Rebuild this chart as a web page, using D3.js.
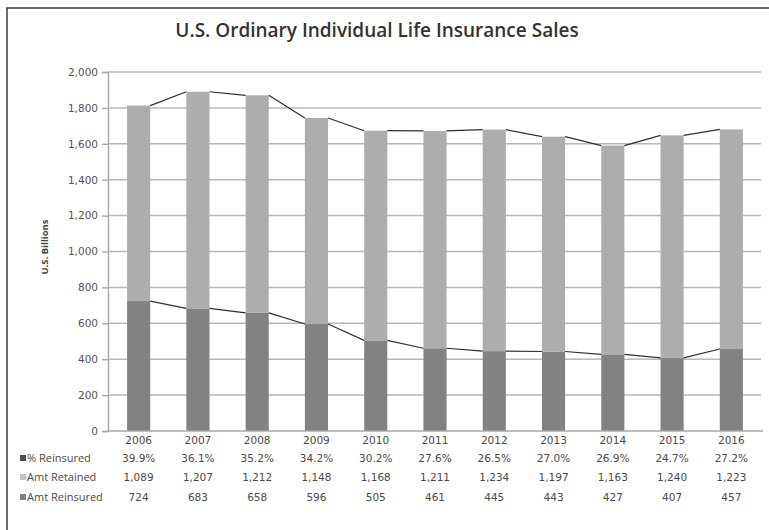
<!DOCTYPE html>
<html lang="en">
  <head>
    <meta charset="UTF-8" />
    <title>U.S. Ordinary Individual Life Insurance Sales</title>
    <script src="https://d3js.org/d3.v7.min.js"></script>
    <style>
      body {
        margin: 0;
        background: #fff;
        overflow: hidden;
      }
      svg text {
        fill: #4a4a4a;
      }
    </style>
  </head>
  <body>
    <svg id="chart" width="769" height="530"></svg>
    <script>
      const years = ["2006", "2007", "2008", "2009", "2010", "2011", "2012", "2013", "2014", "2015", "2016"];
      const pctReinsured = [39.9, 36.1, 35.2, 34.2, 30.2, 27.6, 26.5, 27.0, 26.9, 24.7, 27.2];
      const amtRetained = [1089, 1207, 1212, 1148, 1168, 1211, 1234, 1197, 1163, 1240, 1223];
      const amtReinsured = [724, 683, 658, 596, 505, 461, 445, 443, 427, 407, 457];
      const yTicks = [0, 200, 400, 600, 800, 1000, 1200, 1400, 1600, 1800, 2000];

      const width = 769;
      const height = 530;
      const margin = { top: 72, right: 8, bottom: 99, left: 108 };

      const colors = {
        reinsured: "#828283",
        retained: "#adadae",
        pct: "#4d4d4d",
      };

      const svg = d3.select("#chart");

      // frame (only left + top edges are inside the crop)
      svg
        .append("path")
        .attr("d", `M7,${height} V8 H${width}`)
        .attr("fill", "none")
        .attr("stroke", "#3a3a3a")
        .attr("stroke-width", 1.5);

      svg
        .append("text")
        .attr("x", 377)
        .attr("y", 37)
        .attr("text-anchor", "middle")
        .attr("font-family", "Open Sans")
        .attr("font-weight", 600)
        .attr("font-size", "19px")
        .style("fill", "#333")
        .text("U.S. Ordinary Individual Life Insurance Sales");

      const x = d3
        .scaleBand()
        .domain(years)
        .range([margin.left + 1, width - margin.right])
        .paddingInner(0.61)
        .paddingOuter(0.305);

      const y = d3
        .scaleLinear()
        .domain([0, 2000])
        .range([height - margin.bottom, margin.top]);

      // gridlines
      svg
        .append("g")
        .selectAll("line")
        .data(yTicks.filter((d) => d > 0))
        .join("line")
        .attr("x1", margin.left)
        .attr("x2", width - margin.right)
        .attr("y1", (d) => y(d))
        .attr("y2", (d) => y(d))
        .attr("stroke", "#b8b8b8")
        .attr("stroke-width", 1.5);

      // y axis
      const yAxis = svg
        .append("g")
        .attr("transform", `translate(${margin.left},0)`)
        .call(
          d3
            .axisLeft(y)
            .tickValues(yTicks)
            .tickFormat(d3.format(","))
            .tickSize(6)
            .tickPadding(4)
        );
      yAxis.select(".domain").attr("stroke", "#a8a8a8").attr("stroke-width", 1.4);
      yAxis.selectAll(".tick line").attr("stroke", "#a8a8a8").attr("stroke-width", 1.4);
      yAxis
        .selectAll(".tick text")
        .attr("font-family", "DejaVu Sans")
        .attr("font-size", "10.5px")
        .style("fill", "#555");

      svg
        .append("text")
        .attr("transform", `translate(48,247) rotate(-90)`)
        .attr("text-anchor", "middle")
        .attr("font-family", "Open Sans")
        .attr("font-weight", 700)
        .attr("font-size", "9.5px")
        .style("fill", "#444")
        .text("U.S. Billions");

      // stacked bars
      const rows = years.map((yr, i) => ({
        year: yr,
        reinsured: amtReinsured[i],
        retained: amtRetained[i],
      }));
      const stack = d3.stack().keys(["reinsured", "retained"])(rows);

      svg
        .append("g")
        .selectAll("g")
        .data(stack)
        .join("g")
        .attr("fill", (s) => colors[s.key])
        .selectAll("rect")
        .data((s) => s)
        .join("rect")
        .attr("x", (d) => x(d.data.year))
        .attr("width", x.bandwidth())
        .attr("y", (d) => y(d[1]))
        .attr("height", (d) => y(d[0]) - y(d[1]));

      // series lines between bars
      const line = d3.line();
      stack.forEach((s) => {
        const segs = [];
        for (let i = 0; i < s.length - 1; i++) {
          segs.push([
            [x(years[i]) + x.bandwidth(), y(s[i][1])],
            [x(years[i + 1]), y(s[i + 1][1])],
          ]);
        }
        svg
          .append("g")
          .selectAll("path")
          .data(segs)
          .join("path")
          .attr("d", line)
          .attr("fill", "none")
          .attr("stroke", "#2e2e2e")
          .attr("stroke-width", 1.2);
      });

      // x axis line
      svg
        .append("line")
        .attr("x1", margin.left)
        .attr("x2", width - 6)
        .attr("y1", y(0))
        .attr("y2", y(0))
        .attr("stroke", "#a8a8a8")
        .attr("stroke-width", 1.4);

      // data table
      const tableFont = "DejaVu Sans";
      const cx = (yr) => x(yr) + x.bandwidth() / 2;

      svg
        .append("g")
        .selectAll("text")
        .data(years)
        .join("text")
        .attr("x", cx)
        .attr("y", 444)
        .attr("text-anchor", "middle")
        .attr("font-family", tableFont)
        .attr("font-size", "10.5px")
        .text((d) => d);

      const tableRows = [
        { label: "% Reinsured", color: colors.pct, values: pctReinsured.map((v) => d3.format(".1f")(v) + "%"), yPos: 462 },
        { label: "Amt Retained", color: "#c4c4c4", values: amtRetained.map(d3.format(",")), yPos: 481 },
        { label: "Amt Reinsured", color: colors.reinsured, values: amtReinsured.map(d3.format(",")), yPos: 501 },
      ];

      const tr = svg
        .append("g")
        .selectAll("g")
        .data(tableRows)
        .join("g");

      tr.append("rect")
        .attr("x", 20)
        .attr("y", (d) => d.yPos - 7)
        .attr("width", 6)
        .attr("height", 6)
        .attr("fill", (d) => d.color);

      tr.append("text")
        .attr("x", 27)
        .attr("y", (d) => d.yPos)
        .attr("font-family", "Open Sans")
        .attr("font-size", "11px")
        .text((d) => d.label);

      tr.selectAll(".val")
        .data((d) => d.values.map((v, i) => ({ v, yr: years[i], yPos: d.yPos })))
        .join("text")
        .attr("class", "val")
        .attr("x", (d) => cx(d.yr))
        .attr("y", (d) => d.yPos)
        .attr("text-anchor", "middle")
        .attr("font-family", tableFont)
        .attr("font-size", "10.5px")
        .text((d) => d.v);
    </script>
  </body>
</html>
